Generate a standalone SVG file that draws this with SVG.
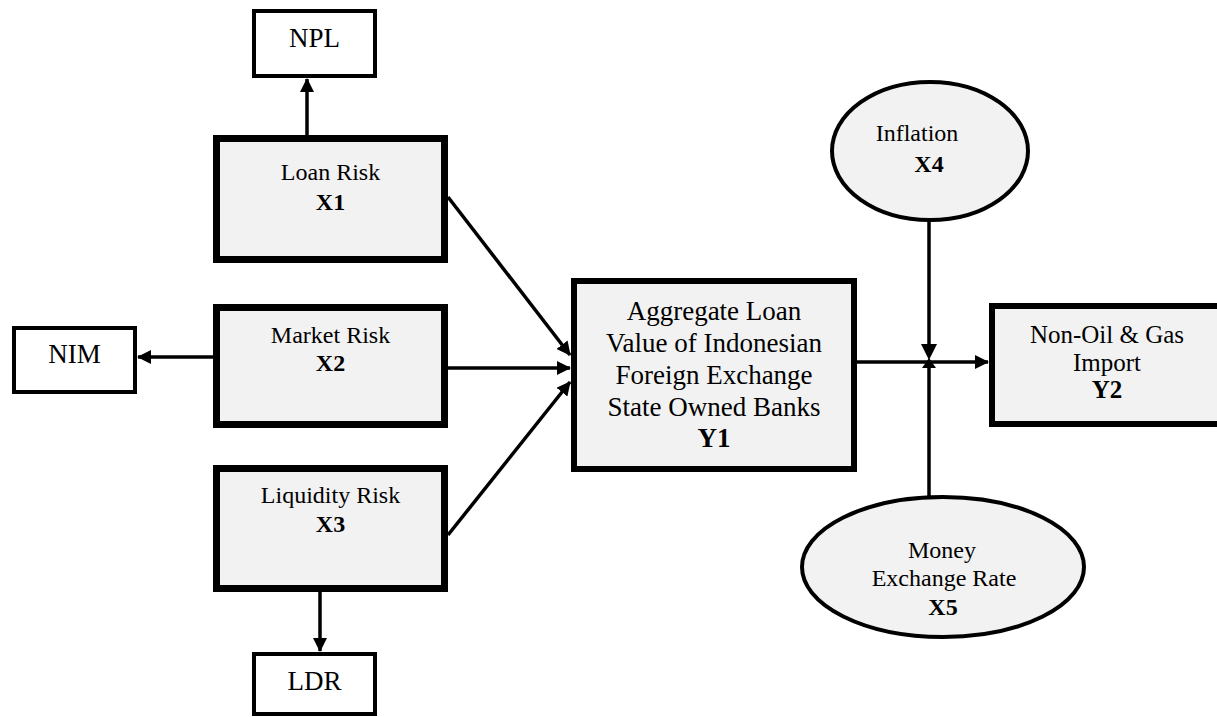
<svg xmlns="http://www.w3.org/2000/svg" width="1217" height="717" viewBox="0 0 1217 717">
<style>
text{font-family:"Liberation Serif","Times New Roman",serif;fill:#000;text-anchor:middle}
.b{font-weight:bold}
.big{fill:#f2f2f2;stroke:#000;stroke-width:7}
.y{fill:#f2f2f2;stroke:#000;stroke-width:6}
.small{fill:#fff;stroke:#000;stroke-width:4}
.ell{fill:#f2f2f2;stroke:#000;stroke-width:4}
.c{stroke:#000;stroke-width:3.5;fill:none}
.f24{font-size:24px}.f25{font-size:25px}.f27{font-size:27px}
</style>
<defs>
<marker id="ah" viewBox="0 0 14 14" refX="13" refY="7" markerWidth="14" markerHeight="14" markerUnits="userSpaceOnUse" orient="auto">
<path d="M0,0 L14,7 L0,14 Z" fill="#000"/>
</marker>
</defs>
<g id="connectors">
<line class="c" x1="307" y1="135" x2="307" y2="79" marker-end="url(#ah)"/>
<line class="c" x1="213" y1="357" x2="138" y2="357" marker-end="url(#ah)"/>
<line class="c" x1="320" y1="592" x2="320" y2="651" marker-end="url(#ah)"/>
<line class="c" x1="448" y1="197" x2="570" y2="355" marker-end="url(#ah)"/>
<line class="c" x1="448" y1="368" x2="570" y2="368" marker-end="url(#ah)"/>
<line class="c" x1="448" y1="535" x2="570" y2="382" marker-end="url(#ah)"/>
<line class="c" x1="857" y1="362" x2="988" y2="362" marker-end="url(#ah)"/>
<line class="c" x1="929" y1="221" x2="929" y2="350"/>
<line class="c" x1="929" y1="497" x2="929" y2="364"/>
<polygon points="921,344 937,344 929,360" fill="#000"/>
<polygon points="922,368 936,368 929,358" fill="#000"/>
</g>
<g id="npl">
<rect class="small" x="254" y="11" width="121" height="65"/>
<text class="f27" x="314.5" y="47">NPL</text>
</g>
<g id="x1">
<rect class="big" x="216.5" y="138.5" width="228" height="121"/>
<text class="f24" x="330.5" y="180">Loan Risk</text>
<text class="f24 b" x="330.5" y="210">X1</text>
</g>
<g id="nim">
<rect class="small" x="14" y="328" width="121" height="64"/>
<text class="f27" x="74.5" y="363">NIM</text>
</g>
<g id="x2">
<rect class="big" x="216.5" y="307.5" width="228" height="117"/>
<text class="f24" x="330.5" y="343">Market Risk</text>
<text class="f24 b" x="330.5" y="371">X2</text>
</g>
<g id="x3">
<rect class="big" x="216.5" y="468.5" width="228" height="120"/>
<text class="f24" x="330.5" y="503">Liquidity Risk</text>
<text class="f24 b" x="330.5" y="532">X3</text>
</g>
<g id="ldr">
<rect class="small" x="254" y="654" width="121" height="60"/>
<text class="f27" x="314.5" y="690">LDR</text>
</g>
<g id="y1">
<rect class="y" x="574" y="281" width="280" height="188"/>
<text class="f27" x="714" y="320">Aggregate Loan</text>
<text class="f27" x="714" y="352">Value of Indonesian</text>
<text class="f27" x="714" y="384">Foreign Exchange</text>
<text class="f27" x="714" y="416">State Owned Banks</text>
<text class="f27 b" x="714" y="447">Y1</text>
</g>
<g id="x4">
<ellipse class="ell" cx="930" cy="151" rx="98" ry="69"/>
<text class="f24" x="917" y="141">Inflation</text>
<text class="f24 b" x="929" y="172">X4</text>
</g>
<g id="y2">
<rect class="y" x="992" y="306" width="232" height="118"/>
<text class="f25" x="1107" y="343">Non-Oil &amp; Gas</text>
<text class="f25" x="1107" y="371">Import</text>
<text class="f25 b" x="1107" y="398">Y2</text>
</g>
<g id="x5">
<ellipse class="ell" cx="943" cy="567" rx="141" ry="70"/>
<text class="f24" x="942" y="558">Money</text>
<text class="f24" x="944" y="586">Exchange Rate</text>
<text class="f24 b" x="943" y="615">X5</text>
</g>
</svg>
